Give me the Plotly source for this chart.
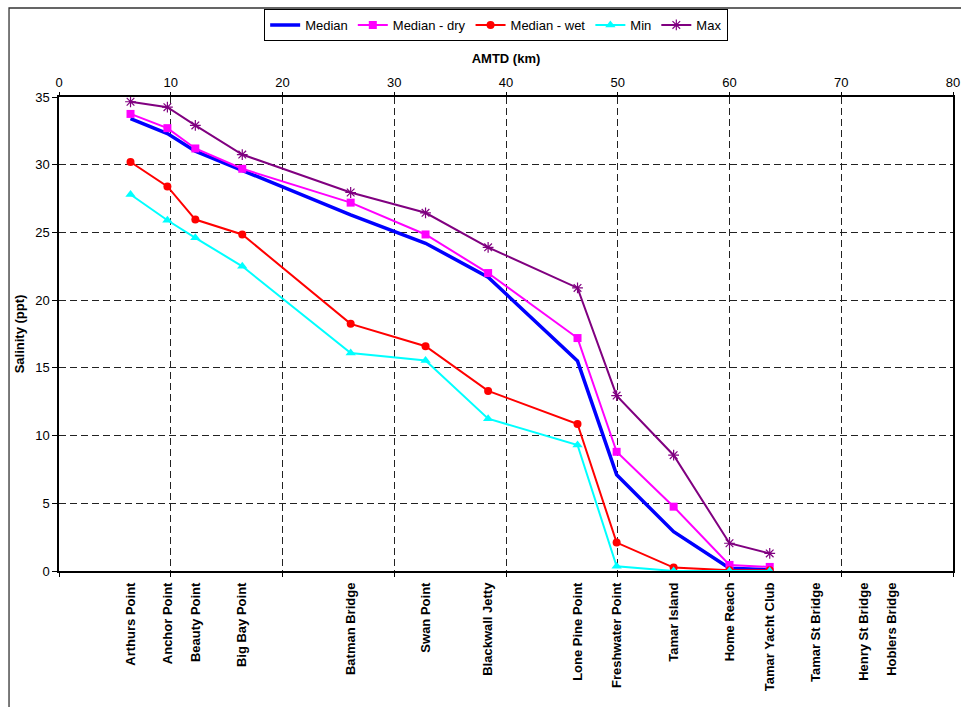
import plotly.graph_objects as go

# Monitoring sites along the estuary and their distance (AMTD, km)
stations = ["Arthurs Point", "Anchor Point", "Beauty Point", "Big Bay Point",
            "Batman Bridge", "Swan Point", "Blackwall Jetty", "Lone Pine Point",
            "Freshwater Point", "Tamar Island", "Home Reach", "Tamar Yacht Club",
            "Tamar St Bridge", "Henry St Bridge", "Hoblers Bridge"]
amtd = [6.4, 9.7, 12.2, 16.4, 26.1, 32.8, 38.4, 46.4, 49.9, 55.0, 60.0, 63.6,
        67.7, 72.0, 74.5]

# Salinity (ppt) at the first 12 sites
median = [33.4, 32.3, 31.0, 29.6, 26.3, 24.2, 21.7, 15.5, 7.1, 2.9, 0.2, 0.1]
median_dry = [33.75, 32.7, 31.2, 29.7, 27.2, 24.85, 22.0, 17.2, 8.8, 4.75, 0.45, 0.3]
median_wet = [30.2, 28.4, 25.95, 24.85, 18.25, 16.6, 13.3, 10.85, 2.1, 0.25, 0.05, 0.05]
salinity_min = [27.8, 25.9, 24.6, 22.5, 16.1, 15.55, 11.25, 9.3, 0.35, 0.0, 0.0, 0.0]
salinity_max = [34.65, 34.25, 32.9, 30.75, 27.95, 26.45, 23.9, 20.9, 12.95, 8.55, 2.05, 1.3]

x_ticks = [0, 10, 20, 30, 40, 50, 60, 70, 80]

FONT = "Liberation Sans, Arial, sans-serif"
n = len(median)
xs = amtd[:n]

fig = go.Figure()

fig.add_trace(go.Scatter(x=xs, y=median, name="Median", mode="lines",
                         line=dict(color="#0000FF", width=3.5)))
fig.add_trace(go.Scatter(x=xs, y=median_dry, name="Median - dry", mode="lines+markers",
                         line=dict(color="#FF00FF", width=2),
                         marker=dict(symbol="square", size=8, color="#FF00FF")))
fig.add_trace(go.Scatter(x=xs, y=median_wet, name="Median - wet", mode="lines+markers",
                         line=dict(color="#FF0000", width=2),
                         marker=dict(symbol="circle", size=8, color="#FF0000")))
fig.add_trace(go.Scatter(x=xs, y=salinity_min, name="Min", mode="lines+markers",
                         line=dict(color="#00FFFF", width=2),
                         marker=dict(symbol="triangle-up", size=9, color="#00FFFF")))
fig.add_trace(go.Scatter(x=xs, y=salinity_max, name="Max", mode="lines+markers",
                         line=dict(color="#800080", width=2),
                         marker=dict(symbol="asterisk-open", size=9,
                                     line=dict(color="#800080", width=1.2))))

# empty traces so the top AMTD axis and the station-name axis are drawn
fig.add_trace(go.Scatter(x=[], y=[], xaxis="x2", showlegend=False, hoverinfo="skip"))
fig.add_trace(go.Scatter(x=[], y=[], xaxis="x3", showlegend=False, hoverinfo="skip"))

grid = dict(showgrid=True, gridcolor="#222222", gridwidth=1, griddash="7px,4px")

fig.update_layout(
    width=961, height=707,
    margin=dict(l=59, r=8, t=97, b=136, autoexpand=False),
    paper_bgcolor="white", plot_bgcolor="white",
    font=dict(family=FONT, size=13, color="black"),
    showlegend=True,
    legend=dict(orientation="h", x=0.489, xanchor="center", y=1.1857, yanchor="top",
                bordercolor="black", borderwidth=1, bgcolor="white",
                font=dict(size=13), itemwidth=30, tracegroupgap=0),
    xaxis=dict(range=[0, 80], tickvals=x_ticks, showticklabels=False,
               ticks="outside", ticklen=4, tickcolor="black",
               showline=True, linecolor="black", linewidth=1.5,
               zeroline=False, automargin=False, **grid),
    xaxis2=dict(range=[0, 80], overlaying="x", side="top", anchor="y",
                tickvals=x_ticks, ticks="outside", ticklen=3, tickcolor="black",
                showline=True, linecolor="black", linewidth=1.5, showgrid=False,
                zeroline=False, tickfont=dict(size=13), automargin=False,
                title=dict(text="<b>AMTD (km)</b>", font=dict(size=13), standoff=8)),
    xaxis3=dict(range=[0, 80], overlaying="x", side="bottom", anchor="y",
                tickvals=amtd, ticktext=["<b>%s</b>" % s for s in stations],
                tickangle=-90, ticks="", showline=False, showgrid=False,
                zeroline=False, tickfont=dict(size=13), ticklabelstandoff=8,
                automargin=False),
    yaxis=dict(range=[0, 35], dtick=5, ticks="outside", ticklen=5, tickcolor="black",
               showline=True, linecolor="black", linewidth=1.5, mirror=True,
               zeroline=False, tickfont=dict(size=13), automargin=False,
               title=dict(text="<b>Salinity (ppt)</b>", font=dict(size=13), standoff=8),
               **grid),
    shapes=[dict(type="rect", xref="paper", yref="paper",
                 x0=-0.0559, x1=1.5, y0=-1.0, y1=1.1878,
                 line=dict(color="#333333", width=1.3), layer="below")],
)

fig.write_html("out.html")
